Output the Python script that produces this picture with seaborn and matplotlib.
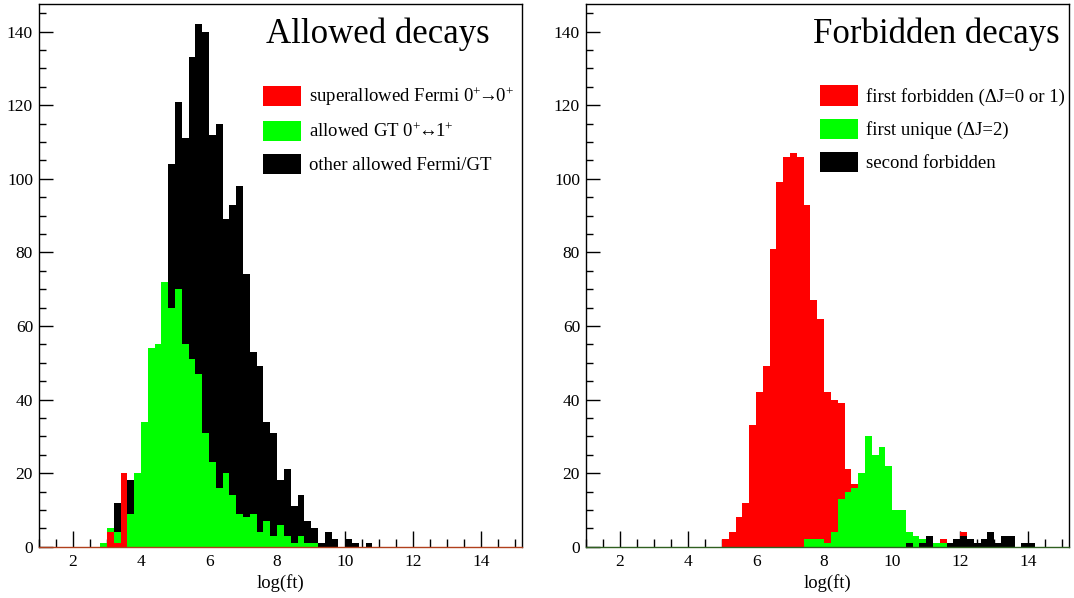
import numpy as np
import pandas as pd
import matplotlib
matplotlib.use("Agg")
import matplotlib.pyplot as plt
import seaborn as sns
from matplotlib.patches import Patch
from matplotlib.ticker import MultipleLocator

# ---------------- data ----------------
bin_width = 0.2
x_range = (1.0, 15.2)
y_range = (0, 147.5)

# Allowed decays: lower bin edges and counts per category
allowed_bin_lo = np.round(np.arange(2.8, 10.61, 0.2), 1)
allowed_superallowed = [0, 4, 1, 20, 0, 0, 0, 0, 0, 0,
                        0, 0, 0, 0, 0, 0, 0, 0, 0, 0,
                        0, 0, 0, 0, 0, 0, 0, 0, 0, 0,
                        0, 0, 0, 0, 0, 0, 0, 0, 0, 0]
allowed_gt = [1, 1, 3, 0, 9, 20, 34, 54, 55, 72,
              65, 70, 55, 51, 47, 31, 23, 16, 20, 14,
              9, 8, 9, 4, 7, 3, 6, 3, 1, 3,
              1, 1, 0, 0, 0, 0, 0, 0, 0, 0]
allowed_other = [0, 0, 8, 0, 9, 0, 0, 0, 0, 0,
                 39, 51, 56, 82, 95, 109, 89, 99, 69, 79,
                 89, 66, 44, 45, 27, 28, 12, 18, 10, 11,
                 6, 4, 1, 4, 2, 0, 2, 1, 0, 1]

# Forbidden decays
forbidden_bin_lo = np.round(np.arange(5.0, 14.01, 0.2), 1)
forbidden_first = [2, 4, 8, 12, 33, 42, 49, 81, 99, 106,
                   107, 106, 91, 65, 60, 41, 36, 26, 6, 1,
                   0, 0, 0, 0, 0, 0, 0, 0, 0, 0,
                   0, 0, 1, 0, 0, 1, 0, 0, 0, 0,
                   0, 0, 0, 0, 0, 0]
forbidden_unique = [0, 0, 0, 0, 0, 0, 0, 0, 0, 0,
                    0, 0, 2, 2, 2, 1, 4, 13, 15, 16,
                    20, 30, 25, 27, 22, 10, 10, 3, 3, 1,
                    0, 1, 1, 0, 0, 0, 0, 0, 0, 0,
                    0, 0, 0, 0, 0, 0]
forbidden_second = [0, 0, 0, 0, 0, 0, 0, 0, 0, 0,
                    0, 0, 0, 0, 0, 0, 0, 0, 0, 0,
                    0, 0, 0, 0, 0, 0, 0, 1, 0, 1,
                    3, 0, 0, 1, 2, 3, 2, 1, 2, 4,
                    1, 3, 3, 0, 1, 1]

allowed_labels = ["superallowed Fermi 0$^{+}\\!\\!\\rightarrow\\!\\!$0$^{+}$",
                  "allowed GT 0$^{+}\\!\\!\\leftrightarrow\\!\\!$1$^{+}$",
                  "other allowed Fermi/GT"]
forbidden_labels = ["first forbidden (\u0394J=0 or 1)",
                    "first unique (\u0394J=2)",
                    "second forbidden"]
series_colors = ["#ff0000", "#00ff00", "#000000"]
titles = ["Allowed decays", "Forbidden decays"]
x_label = "log(ft)"

# ---------------- style ----------------
sns.set_theme(style="ticks")
plt.rcParams["font.family"] = ["Liberation Serif", "DejaVu Serif"]
plt.rcParams["mathtext.fontset"] = "custom"
plt.rcParams["mathtext.rm"] = "Liberation Serif"
plt.rcParams["mathtext.it"] = "Liberation Serif:italic"
plt.rcParams["mathtext.fallback"] = "stix"
for key in ["text.color", "axes.labelcolor", "xtick.color", "ytick.color",
            "xtick.labelcolor", "ytick.labelcolor"]:
    plt.rcParams[key] = "black"

edges = [float(e) for e in np.round(np.arange(x_range[0], x_range[1] + 0.01, bin_width), 1)]

W, H = 1074, 598
fig = plt.figure(figsize=(W / 100, H / 100), dpi=100)
ax_bottom_px, ax_top_px = 546.7, 4.0
axes_h = (ax_bottom_px - ax_top_px) / H
ax1 = fig.add_axes([39 / W, (H - ax_bottom_px) / H, 483 / W, axes_h])
ax2 = fig.add_axes([586 / W, (H - ax_bottom_px) / H, 483 / W, axes_h])


def make_frame(bin_lo, series, labels):
    rows = []
    for lab, vals in zip(labels, series):
        for lo, c in zip(bin_lo, vals):
            rows.append((float(lo) + bin_width / 2, float(c), lab))
    return pd.DataFrame(rows, columns=["logft", "count", "kind"])


def draw(ax, bin_lo, series, labels, bottom_to_top, title, title_x,
         leg_x, axis_color):
    df = make_frame(bin_lo, series, labels)
    pal = dict(zip(labels, series_colors))
    # seaborn stacks the last hue level at the bottom
    hue_order = [labels[i] for i in bottom_to_top][::-1]
    sns.histplot(data=df, x="logft", weights="count", hue="kind",
                 hue_order=hue_order, multiple="stack", bins=edges,
                 element="step", fill=True, alpha=1, linewidth=0,
                 palette=pal, legend=False, ax=ax)
    ax.set_xlim(*x_range)
    ax.set_ylim(*y_range)
    ax.set_ylabel("")
    ax.set_xlabel(x_label, fontsize=13.5, labelpad=3, color="black")
    ax.xaxis.set_major_locator(MultipleLocator(2))
    ax.xaxis.set_minor_locator(MultipleLocator(0.5))
    ax.yaxis.set_major_locator(MultipleLocator(20))
    ax.yaxis.set_minor_locator(MultipleLocator(5))
    ax.tick_params(which="both", direction="in", top=False, right=False,
                   color="black", labelcolor="black", width=1, labelsize=12.5)
    ax.tick_params(axis="x", which="major", length=11.5, pad=5.5)
    ax.tick_params(axis="x", which="minor", length=5.8)
    ax.tick_params(axis="y", which="major", length=10, pad=4.3)
    ax.tick_params(axis="y", which="minor", length=5)
    for s in ax.spines.values():
        s.set_visible(True)
        s.set_color("black")
        s.set_linewidth(1)
    ax.spines["bottom"].set_color(axis_color)
    ax.set_facecolor("white")
    ax.text(title_x, 0.928, title, transform=ax.transAxes, ha="right",
            va="baseline", fontsize=25, color="black")
    handles = [Patch(facecolor=c, edgecolor="none") for c in series_colors]
    ax.legend(handles, labels, loc="upper left",
              bbox_to_anchor=(leg_x, 0.850), frameon=False, fontsize=13.5,
              handlelength=2.0, handleheight=1.28, labelspacing=0.68,
              handletextpad=0.45, borderpad=0, borderaxespad=0,
              labelcolor="black")


draw(ax1, allowed_bin_lo,
     [allowed_superallowed, allowed_gt, allowed_other], allowed_labels,
     bottom_to_top=[0, 1, 2], title=titles[0], title_x=0.9337,
     leg_x=0.4638, axis_color="#b0401c")
draw(ax2, forbidden_bin_lo,
     [forbidden_first, forbidden_unique, forbidden_second], forbidden_labels,
     bottom_to_top=[2, 1, 0], title=titles[1], title_x=0.981,
     leg_x=0.4845, axis_color="#2f6020")

fig.savefig("out.png", dpi=100, facecolor="white")
